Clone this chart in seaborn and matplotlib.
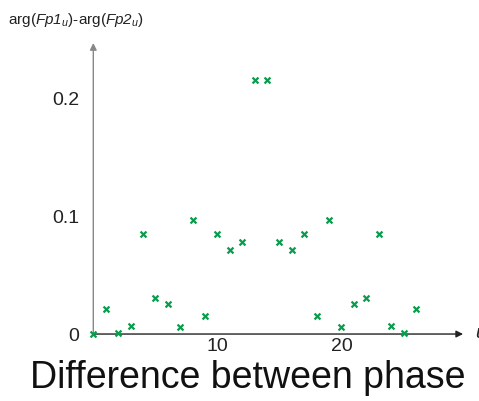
import numpy as np
import pandas as pd
import matplotlib
matplotlib.use("Agg")
import matplotlib.pyplot as plt
import seaborn as sns

# phase difference per index u
u_values = list(range(27))
phase_diff = [0.0, 0.021, 0.001, 0.0065, 0.0847, 0.0305, 0.0257, 0.006, 0.0966,
              0.015, 0.0847, 0.0709, 0.078, 0.2155, 0.2155, 0.078, 0.0709, 0.0847,
              0.015, 0.0966, 0.006, 0.0257, 0.0305, 0.0847, 0.0065, 0.001, 0.021]
x_ticks = [5, 10, 15, 20, 25]
x_ticklabels = ["", "10", "", "20", ""]
y_ticks = [0, 0.05, 0.1, 0.15, 0.2]
y_ticklabels = ["0", "", "0.1", "", "0.2"]

df = pd.DataFrame({"u": u_values, "diff": phase_diff})

sns.set_style("white")
plt.rcParams['font.family'] = ['Liberation Sans', 'DejaVu Sans']
plt.rcParams['mathtext.fontset'] = 'custom'
# italic everywhere inside math so the digits in Fp1/Fp2 are slanted too
plt.rcParams['mathtext.rm'] = 'Liberation Sans:italic'
plt.rcParams['mathtext.it'] = 'Liberation Sans:italic'

fig = plt.figure(figsize=(4.79, 4.01), dpi=100)
ax = fig.add_axes([0.1948, 0.167, 0.772, 0.7257])

sns.scatterplot(data=df, x="u", y="diff", marker="x", color="#0a9c4c",
                s=18, linewidth=1.6, ax=ax, clip_on=False, zorder=5)

ax.set_xlim(0, 29.8)
ax.set_ylim(0, 0.2466)
ax.set_xticks(x_ticks)
ax.set_xticklabels(x_ticklabels)
ax.set_yticks(y_ticks)
ax.set_yticklabels(y_ticklabels)
ax.tick_params(axis="both", direction="in", length=4, width=0.8,
               labelsize=14, colors="#222222")
ax.tick_params(axis="x", pad=3)
ax.tick_params(axis="y", pad=10, color="#888888", labelcolor="#222222")

for side in ["top", "right", "left", "bottom"]:
    ax.spines[side].set_visible(False)
ax.set_xlabel("")
ax.set_ylabel("")

# axis lines with arrow heads
ax.annotate("", xy=(1.0, 0), xycoords="axes fraction", xytext=(0, 0),
            arrowprops=dict(arrowstyle="-|>", color="#222222", lw=1.0,
                            mutation_scale=10, shrinkA=0, shrinkB=0))
ax.annotate("", xy=(0, 1.0), xycoords="axes fraction", xytext=(0, 0),
            arrowprops=dict(arrowstyle="-|>", color="#888888", lw=1.0,
                            mutation_scale=10, shrinkA=0, shrinkB=0))

fig.text(475 / 479, 1 - 333 / 401, "u", fontsize=14, style="italic",
         ha="left", va="center", color="#222222")
fig.text(8 / 479, 1 - 20 / 401,
         r"arg($\mathrm{Fp1}_{u}$)-arg($\mathrm{Fp2}_{u}$)",
         fontsize=11, ha="left", va="center", color="#222222")
fig.text(248 / 479, 1 - 378 / 401, "Difference between phase",
         fontsize=27, ha="center", va="center", color="#111111")

fig.savefig("out.png", dpi=100)
